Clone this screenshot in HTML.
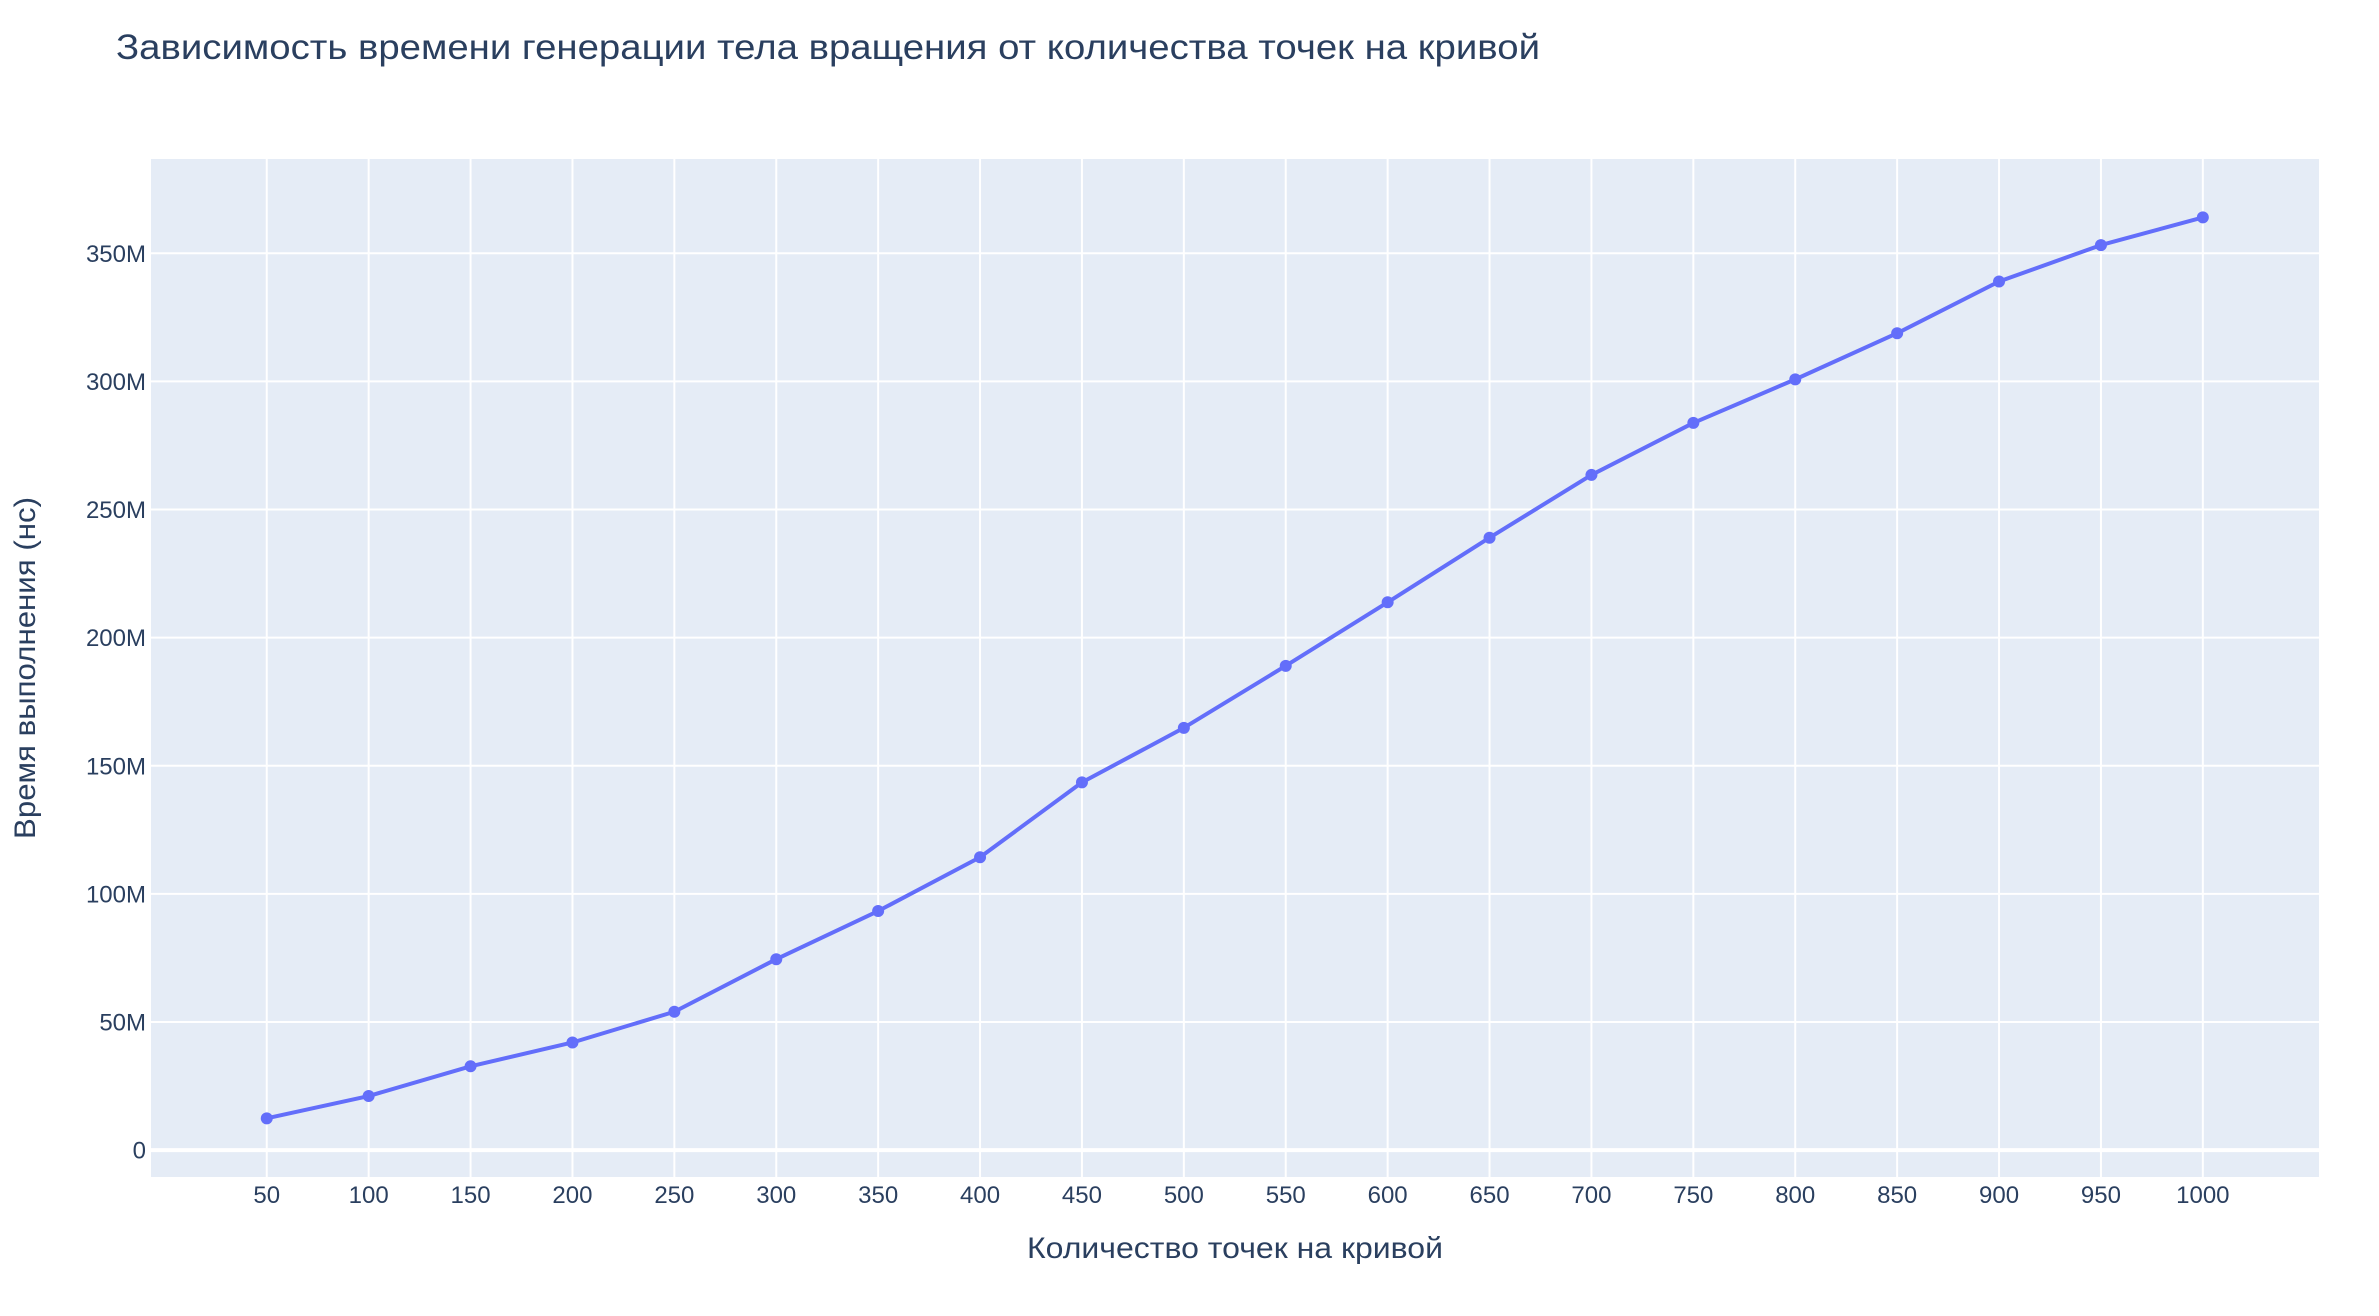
<!DOCTYPE html>
<html><head><meta charset="utf-8"><style>
html,body{margin:0;padding:0;background:#fff;}
svg{display:block;font-family:"Liberation Sans","DejaVu Sans",sans-serif;}
</style></head><body>
<svg id="chart" width="2379" height="1316" xmlns="http://www.w3.org/2000/svg">
<rect x="151" y="159" width="2168" height="1018" fill="#E5ECF6"/>
<g id="grid"></g>
<g id="series"></g>
<g id="ticks" fill="#2a3f5f" font-size="24"></g>
<text x="116" y="59" font-size="35" fill="#2a3f5f" textLength="1424" lengthAdjust="spacingAndGlyphs">Зависимость времени генерации тела вращения от количества точек на кривой</text>
<text x="1235" y="1258" font-size="30" fill="#2a3f5f" text-anchor="middle" textLength="416" lengthAdjust="spacingAndGlyphs">Количество точек на кривой</text>
<text transform="translate(35,668) rotate(-90)" font-size="30" fill="#2a3f5f" text-anchor="middle" textLength="342" lengthAdjust="spacingAndGlyphs">Время выполнения (нс)</text>
</svg>
<script>
const categories = [50,100,150,200,250,300,350,400,450,500,550,600,650,700,750,800,850,900,950,1000];
const timesM = [12.4,21.1,32.7,42,54,74.5,93.3,114.3,143.5,164.8,189,213.8,239,263.5,283.8,300.8,318.8,339,353.2,364];
const yTicks = [0,50,100,150,200,250,300,350];
const yTickLabels = ["0","50M","100M","150M","200M","250M","300M","350M"];

const NS='http://www.w3.org/2000/svg';
const L=151,R=2319,T=159,B=1177;
const xMin=-6.8,xMax=1057,yMin=-10.5,yMax=386.8;
function xs(v){return L+(v-xMin)/(xMax-xMin)*(R-L);}
function ys(v){return B-(v-yMin)/(yMax-yMin)*(B-T);}
function mk(tag,attrs,parent){const e=document.createElementNS(NS,tag);for(const k in attrs)e.setAttribute(k,attrs[k]);parent.appendChild(e);return e;}
const grid=document.getElementById('grid'),ser=document.getElementById('series'),tk=document.getElementById('ticks');
categories.forEach(c=>{
  const g=mk('line',{x1:xs(c),x2:xs(c),y1:T,y2:B,stroke:'#fff','stroke-width':2},grid);
  
  
  const t=mk('text',{x:xs(c),y:1203,'text-anchor':'middle'},tk);
  t.textContent=String(c);
  
  
});
yTicks.forEach((v,i)=>{
  const g=mk('line',{x1:L,x2:R,y1:ys(v),y2:ys(v),stroke:'#fff','stroke-width':v===0?4:2},grid);
  
  
  const t=mk('text',{x:146,y:ys(v)+8.5,'text-anchor':'end'},tk);
  t.textContent=yTickLabels[i];
  
  
});
const pts=categories.map((c,i)=>xs(c)+','+ys(timesM[i])).join(' ');
const pl=mk('polyline',{points:pts,fill:'none',stroke:'#636EFA','stroke-width':4,'stroke-linejoin':'round'},ser);


categories.forEach((c,i)=>{
  const p=mk('circle',{cx:xs(c),cy:ys(timesM[i]),r:6,fill:'#636EFA'},ser);
  
  
});
</script>
</body></html>
